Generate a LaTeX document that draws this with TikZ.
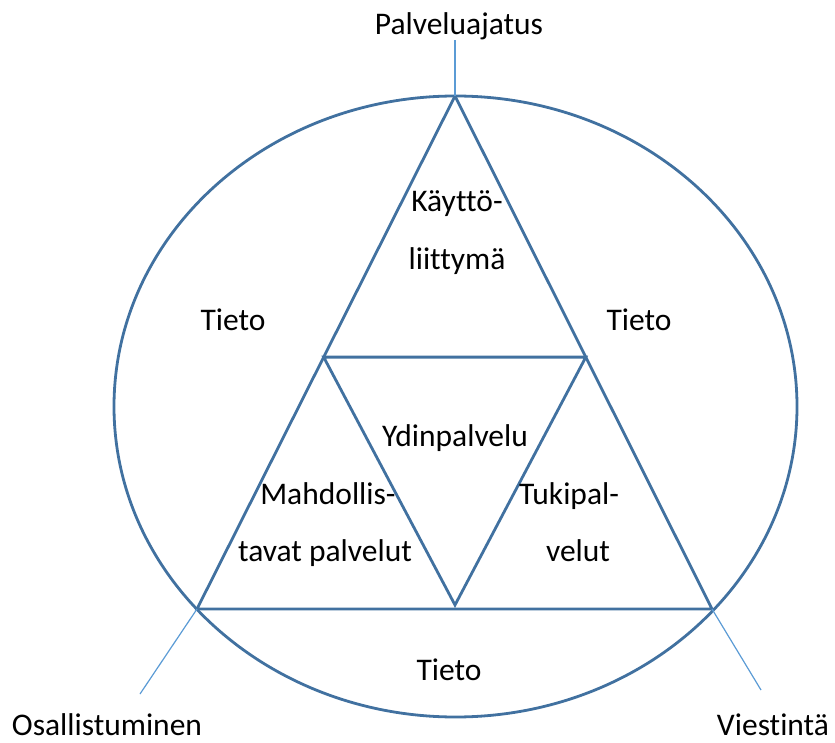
\documentclass[tikz,border=0pt]{standalone}
\usepackage{fontspec}
\setmainfont[Ligatures=NoCommon]{Carlito}
\usetikzlibrary{calc}
\definecolor{mainblue}{RGB}{65,113,160}
\definecolor{lightblue}{RGB}{91,155,213}
\tikzset{
  shapeline/.style={draw=mainblue, line width=2.8pt, line join=miter},
  thinline/.style={draw=lightblue, line width=1.2pt},
  lbl/.style={inner sep=0pt, anchor=base, font=\fontsize{31.5}{37}\selectfont, text=black}
}
\begin{document}
\begin{tikzpicture}[x=1pt, y=-1pt]
\useasboundingbox (0,0) rectangle (835,743);
% ellipse
\draw[shapeline] (455.5,406.5) ellipse [x radius=341.5pt, y radius=310.5pt];
% triangle vertices
\coordinate (A) at (455,96);
\coordinate (BL) at (197,609);
\coordinate (BR) at (712,609);
\coordinate (ML) at ($(A)!0.509!(BL)$);
\coordinate (MR) at ($(A)!0.509!(BR)$);
\coordinate (MB) at (455,605);
\draw[shapeline] (A) -- (BL) -- (BR) -- cycle;
\draw[shapeline] (ML) -- (MR) -- (MB) -- cycle;
% outer thin lines
\coordinate (T1) at (455,40);
\coordinate (T2) at (140,694);
\coordinate (T3) at (761,690);
\draw[thinline] (A) -- (T1);
\draw[thinline] (BL) -- (T2);
\draw[thinline] (BR) -- (T3);
% labels
\node[lbl] (palv) at (459,35) {Palveluajatus};
\node[lbl] (osal) at (107,735.5) {Osallistuminen};
\node[lbl] (vies) at (773,735.5) {Viestintä};
\node[lbl] (tietoL) at (233,330) {Tieto};
\node[lbl] (tietoR) at (639,330) {Tieto};
\node[lbl] (tietoB) at (449,680) {Tieto};
\node[lbl] (kay1) at (457,212) {Käyttö-};
\node[lbl] (kay2) at (457,270) {liittymä};
\node[lbl] (ydin) at (455,446) {Ydinpalvelu};
\node[lbl] (mah1) at (328,504) {Mahdollis-};
\node[lbl] (mah2) at (325,561) {tavat palvelut};
\node[lbl] (tuk1) at (569,504) {Tukipal-};
\node[lbl] (tuk2) at (578,561) {velut};
\end{tikzpicture}
\end{document}
